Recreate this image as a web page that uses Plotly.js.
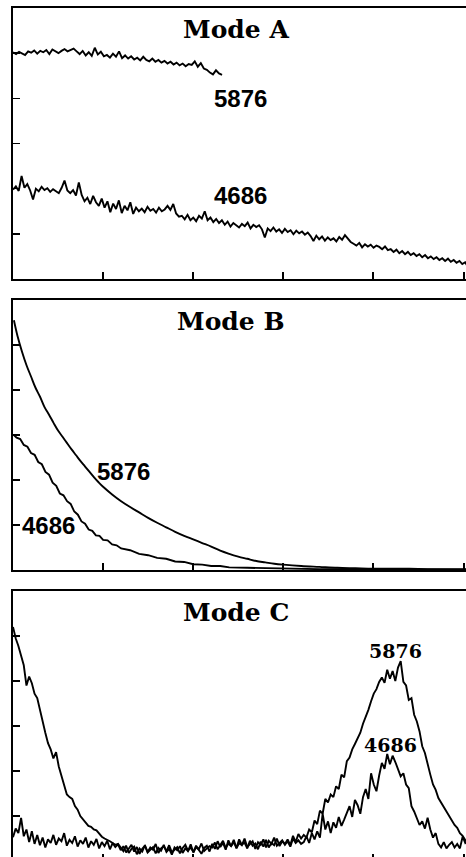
<!DOCTYPE html>
<html>
<head>
<meta charset="utf-8">
<script src="https://cdn.plot.ly/plotly-3.0.1.min.js"></script>
<style>
html, body { margin: 0; padding: 0; overflow: hidden; background: #fff; }
#chart { width: 468px; height: 870px; }
</style>
</head>
<body>
<div id="chart"></div>
<script>
// ---------- Data ----------
const panelTitles = ["Mode A", "Mode B", "Mode C"];
const seriesLabels = ["5876", "4686"];
const xTickVals = [1, 2, 3, 4, 5];
const yTickVals = [1, 2, 3, 4, 5];

// Mode A, 5876 (sampled evenly from x = 0 to 2.32)
const A5876_start = 0, A5876_end = 2.32;
const A5876 = [5.02,4.98,5.03,5.00,4.96,5.04,5.01,5.06,4.99,5.05,
  5.02,5.07,4.98,5.08,5.03,5.00,5.05,5.09,5.04,5.07,
  5.10,5.04,4.98,5.05,4.95,5.02,4.94,5.12,4.97,5.03,
  4.93,4.96,4.90,4.99,4.92,5.04,4.89,4.95,4.88,4.93,
  4.86,4.90,4.84,4.92,4.85,4.82,4.88,4.81,4.85,4.79,
  4.83,4.77,4.81,4.75,4.79,4.73,4.77,4.71,4.76,4.74,
  4.82,4.70,4.78,4.66,4.63,4.57,4.53,4.62,4.55,4.52];

// Mode A, 4686 (sampled evenly from x = 0 to 5.05)
const A4686_start = 0, A4686_end = 5.05;
const A4686 = [1.98,2.05,1.95,2.28,2.02,2.10,1.96,1.76,2.00,1.94,2.04,1.97,2.01,1.93,1.99,1.95,1.90,
  2.02,2.18,1.96,1.90,1.97,1.85,2.14,1.86,
  1.72,1.80,1.66,1.84,1.70,1.62,1.78,
  1.58,1.72,1.48,1.67,1.55,1.74,1.46,1.62,1.52,1.70,1.44,1.58,1.50,
  1.56,1.48,1.60,1.51,1.55,1.47,1.58,1.50,1.54,1.62,1.53,1.66,
  1.45,1.38,1.40,1.32,1.42,1.30,1.36,1.28,1.40,1.34,1.50,1.30,1.36,1.26,1.33,1.24,
  1.30,1.20,1.27,1.16,1.24,1.19,1.14,1.22,1.17,1.25,1.12,1.20,1.15,1.19,
  1.10,0.92,
  1.12,1.06,1.14,1.05,1.10,1.02,1.11,1.04,1.08,0.99,1.07,1.01,1.05,0.98,1.03,
  0.95,0.84,
  0.96,0.88,0.94,0.85,0.92,0.86,0.90,0.83,0.93,0.87,0.97,0.89,
  0.82,0.78,0.74,0.80,0.70,0.77,0.72,0.76,0.69,0.74,0.71,0.66,0.72,0.64,
  0.66,0.60,0.65,0.57,0.62,0.55,0.60,0.53,0.57,0.51,0.55,0.48,0.53,0.46,
  0.50,0.44,0.48,0.42,0.46,0.40,0.45,0.38,0.42,0.36,0.40,0.33,0.37,0.27];

// Mode B, 5876
const B5876_x = [0.01,0.05,0.10,0.15,0.20,0.25,0.30,0.35,0.40,0.45,0.50,0.55,0.60,0.65,0.70,0.75,0.80,0.85,0.90,0.95,
  1.00,1.10,1.20,1.30,1.40,1.50,1.60,1.70,1.80,1.90,2.00,2.10,2.20,2.30,2.40,2.50,2.60,2.70,2.80,2.90,
  3.00,3.20,3.40,3.60,3.80,4.00,4.30,4.60,5.05];
const B5876_y = [5.55,5.20,4.85,4.55,4.30,4.05,3.85,3.62,3.45,3.27,3.10,2.96,2.82,2.68,2.55,2.42,2.30,2.18,2.06,1.95,
  1.85,1.68,1.53,1.40,1.28,1.16,1.05,0.95,0.85,0.76,0.68,0.60,0.52,0.43,0.36,0.30,0.25,0.20,0.17,0.14,
  0.12,0.09,0.07,0.05,0.04,0.03,0.03,0.02,0.02];

// Mode B, 4686
const B4686_x = [0.01,0.04,0.08,0.12,0.16,0.20,0.24,0.28,0.32,0.36,0.40,0.44,0.48,0.52,0.56,0.60,0.64,0.68,0.72,0.76,
  0.80,0.84,0.88,0.92,0.96,1.00,1.05,1.10,1.15,1.20,1.30,1.40,1.50,1.60,1.70,1.80,1.90,2.00,2.10,2.20,
  2.30,2.40,2.60,2.80,3.00,3.40,4.00,5.05];
const B4686_y = [3.00,2.94,2.91,2.78,2.74,2.60,2.56,2.40,2.35,2.18,2.12,1.94,1.87,1.70,1.66,1.53,1.47,1.30,1.23,1.08,
  1.03,0.90,0.87,0.77,0.76,0.67,0.66,0.57,0.55,0.48,0.44,0.36,0.33,0.27,0.25,0.19,0.18,0.13,0.12,0.09,
  0.09,0.06,0.05,0.04,0.03,0.02,0.02,0.01];

// Mode C, 5876 (sampled evenly from x = 0 to 5.05)
const C5876_start = 0, C5876_end = 5.05;
const C5876 = [5.20,4.95,4.78,4.55,4.35,3.90,4.10,3.95,3.72,3.62,
  3.35,3.05,2.85,2.62,2.48,2.28,2.42,2.10,1.88,1.70,
  1.48,1.42,1.38,1.22,1.14,1.00,0.92,0.86,0.78,0.76,
  0.70,0.68,0.60,0.54,0.50,0.46,0.44,0.40,0.36,0.38,
  0.30,0.22,0.34,0.18,0.27,0.32,0.15,0.28,0.21,0.35,0.19,0.26,0.31,0.17,0.29,0.23,0.36,0.20,0.27,0.14,
  0.30,0.24,0.33,0.18,0.28,0.22,0.37,0.19,0.31,0.25,0.16,0.29,0.34,0.21,
  0.38,0.27,0.44,0.31,0.40,0.25,0.46,0.33,0.42,0.29,0.48,0.36,0.41,0.28,0.45,0.34,0.39,0.26,0.43,0.32,
  0.47,0.30,0.40,0.35,0.50,0.33,0.44,
  0.38,0.48,0.35,0.56,0.42,0.60,0.50,
  0.58,0.52,0.70,0.64,0.90,0.82,1.12,1.05,1.38,1.30,
  1.48,1.42,1.66,1.60,1.92,1.86,2.22,2.30,2.48,2.60,
  2.74,2.85,3.05,3.20,3.36,3.55,3.72,3.82,3.98,4.08,
  3.96,4.25,4.05,4.22,4.00,4.30,4.44,3.98,3.90,3.58,
  3.62,3.25,3.10,2.88,2.55,2.40,2.12,1.92,1.70,1.58,
  1.40,1.30,1.18,1.10,0.98,0.90,0.80,0.74,0.62,0.56,
  0.46,0.40];

// Mode C, 4686 (sampled evenly from x = 0 to 5.05)
const C4686_start = 0, C4686_end = 5.05;
const C4686 = [0.53,0.72,0.62,0.96,0.55,0.70,0.42,0.66,0.38,0.58,
  0.35,0.52,0.30,0.48,0.40,0.58,0.36,0.50,0.44,0.62,
  0.34,0.47,0.40,0.55,0.32,0.46,0.38,0.52,0.30,0.44,
  0.36,0.49,0.28,0.42,0.33,0.45,0.26,0.40,0.31,0.37,
  0.24,0.33,0.19,0.29,0.36,0.21,0.31,0.16,0.27,0.34,0.20,0.30,0.25,0.38,0.18,0.28,0.33,0.22,0.35,0.19,
  0.26,0.31,0.17,0.29,0.36,0.23,0.30,0.20,0.34,0.26,0.39,0.22,0.28,0.33,
  0.30,0.41,0.26,0.37,0.45,0.29,0.39,0.33,0.47,0.28,0.40,0.35,0.50,0.31,0.38,0.44,0.27,0.42,0.36,0.48,
  0.30,0.45,0.38,0.52,0.34,0.41,0.46,
  0.36,0.44,0.32,0.50,0.40,0.46,0.38,
  0.42,0.55,0.40,0.62,0.48,0.66,0.52,1.05,0.70,0.88,
  0.62,0.86,0.74,0.98,0.78,0.92,1.08,1.22,0.98,1.36,
  1.24,1.05,1.42,1.60,1.38,1.95,1.70,1.55,1.90,2.18,
  2.05,2.38,2.15,2.34,2.20,2.02,1.88,1.95,1.70,1.62,
  1.22,1.10,0.95,0.80,0.88,0.72,0.96,0.70,0.52,0.62,
  0.38,0.30,0.42,0.28,0.36,0.42,0.30,0.38,0.28,0.54,
  0.40,0.44];

// Label positions (data coordinates) for each panel
const labelPos = {
  A: { t: [2.47, 5.53], s5876: [2.52, 4.00], s4686: [2.53, 1.84] },
  B: { t: [2.42, 5.53], s5876: [1.23, 2.18], s4686: [0.39, 0.99] },
  C: { t: [2.47, 5.53], s5876: [4.24, 4.67], s4686: [4.19, 2.58] }
};

// ---------- Build ----------
function grid(x0, x1, n) {
  const out = [];
  for (let i = 0; i < n; i++) out.push(x0 + (x1 - x0) * i / (n - 1));
  return out;
}

function tr(x, y, ax, shape) {
  return { x: x, y: y, xaxis: 'x' + ax, yaxis: 'y' + ax, type: 'scatter', mode: 'lines',
           line: { color: '#000', width: 1.9, shape: shape || 'linear' }, hoverinfo: 'skip', showlegend: false };
}

const traces = [
  tr(grid(A5876_start, A5876_end, A5876.length), A5876, ''),
  tr(grid(A4686_start, A4686_end, A4686.length), A4686, ''),
  tr(B5876_x, B5876_y, '2', 'spline'),
  tr(B4686_x, B4686_y, '2'),
  tr(grid(C5876_start, C5876_end, C5876.length), C5876, '3'),
  tr(grid(C4686_start, C4686_end, C4686.length), C4686, '3')
];

function xa(domainAnchor) {
  return { range: [0, 5.05], domain: [0, 1], anchor: domainAnchor, tickvals: xTickVals,
    ticks: 'inside', ticklen: 7, tickwidth: 2, tickcolor: '#000', showticklabels: false,
    showline: true, linewidth: 2, linecolor: '#000', mirror: true, showgrid: false, zeroline: false, fixedrange: true };
}
function ya(dom, anchor) {
  return { range: [0, 6], domain: dom, anchor: anchor, tickvals: yTickVals,
    ticks: 'inside', ticklen: 7, tickwidth: 1.6, tickcolor: '#000', showticklabels: false,
    showline: true, linewidth: 2, linecolor: '#000', mirror: true, showgrid: false, zeroline: false, fixedrange: true };
}

const titleFont = { family: 'DejaVu Serif', size: 25, color: '#000', weight: 'bold' };
const sansFont = { family: 'Liberation Sans', size: 24, color: '#000', weight: 'bold' };
const serifLabelFont = { family: 'DejaVu Serif', size: 19, color: '#000', weight: 'bold' };

function ann(text, pos, ax, font) {
  return { text: text, x: pos[0], y: pos[1], xref: 'x' + ax, yref: 'y' + ax,
    showarrow: false, font: font, xanchor: 'center', yanchor: 'middle' };
}

const annotations = [
  ann(panelTitles[0], labelPos.A.t, '', titleFont),
  ann(seriesLabels[0], labelPos.A.s5876, '', sansFont),
  ann(seriesLabels[1], labelPos.A.s4686, '', sansFont),
  ann(panelTitles[1], labelPos.B.t, '2', titleFont),
  ann(seriesLabels[0], labelPos.B.s5876, '2', sansFont),
  ann(seriesLabels[1], labelPos.B.s4686, '2', sansFont),
  ann(panelTitles[2], labelPos.C.t, '3', titleFont),
  ann(seriesLabels[0], labelPos.C.s5876, '3', serifLabelFont),
  ann(seriesLabels[1], labelPos.C.s4686, '3', serifLabelFont)
];

const layout = {
  width: 468, height: 870, autosize: false,
  margin: { l: 13, r: 0, t: 8, b: 9, pad: 0 },
  paper_bgcolor: '#fff', plot_bgcolor: '#fff',
  showlegend: false,
  xaxis: xa('y'), yaxis: ya([0.6823, 1], 'x'),
  xaxis2: xa('y2'), yaxis2: ya([0.3411, 0.6577], 'x2'),
  xaxis3: xa('y3'), yaxis3: ya([0, 0.3165], 'x3'),
  annotations: annotations
};

Plotly.newPlot('chart', traces, layout, { staticPlot: true, displayModeBar: false });
</script>
</body>
</html>
